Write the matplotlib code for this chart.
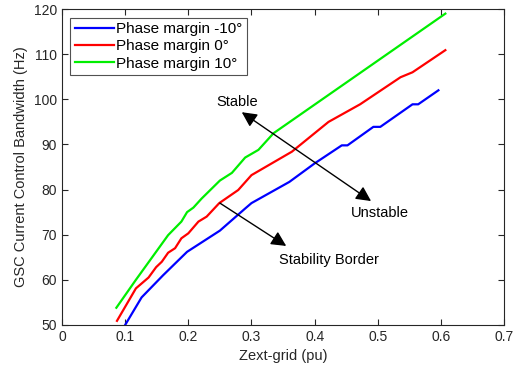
import matplotlib as mpl
mpl.use('Agg')
import matplotlib.pyplot as plt

plt.rcParams['font.family'] = ['Liberation Sans', 'DejaVu Sans']

# Phase margin -10 deg
x_neg10 = [0.10, 0.126, 0.16, 0.198, 0.25, 0.29, 0.30, 0.36, 0.40, 0.443, 0.452, 0.493, 0.504, 0.555, 0.564, 0.596]
y_neg10 = [50.0, 56.1, 61.0, 66.2, 70.9, 75.8, 77.0, 81.7, 85.8, 89.8, 89.8, 93.9, 93.9, 98.9, 98.9, 102.0]

# Phase margin 0 deg
x_0 = [0.087, 0.117, 0.137, 0.149, 0.158, 0.168, 0.179, 0.189, 0.20, 0.216, 0.229, 0.249, 0.279, 0.30, 0.364, 0.422, 0.472, 0.536, 0.555, 0.607]
y_0 = [50.9, 58.1, 60.5, 62.8, 64.0, 66.0, 67.0, 69.2, 70.3, 72.9, 74.0, 77.0, 79.9, 83.2, 88.4, 95.0, 98.9, 104.9, 106.0, 110.9]

# Phase margin 10 deg
x_10 = [0.086, 0.117, 0.168, 0.189, 0.198, 0.208, 0.221, 0.25, 0.269, 0.29, 0.311, 0.335, 0.607]
y_10 = [53.8, 60.0, 69.9, 72.9, 75.0, 76.0, 78.0, 82.0, 83.7, 87.1, 88.8, 92.5, 119.0]

labels = ['Phase margin -10°', 'Phase margin 0°', 'Phase margin 10°']

fig = plt.figure(figsize=(5.17, 3.8), dpi=100)
ax = fig.add_axes([0.12, 0.145, 0.855, 0.831])

ax.plot(x_neg10, y_neg10, color='#0000ff', lw=1.6, label=labels[0])
ax.plot(x_0, y_0, color='#ff0000', lw=1.6, label=labels[1])
ax.plot(x_10, y_10, color='#00ee00', lw=1.6, label=labels[2])

ax.set_xlim(0, 0.7)
ax.set_ylim(50, 120)
ax.set_xticks([0, 0.1, 0.2, 0.3, 0.4, 0.5, 0.6, 0.7])
ax.set_xticklabels(['0', '0.1', '0.2', '0.3', '0.4', '0.5', '0.6', '0.7'])
ax.set_yticks(range(50, 121, 10))
ax.tick_params(direction='in', top=True, right=True, labelsize=10, colors='#262626', length=4)
for s in ax.spines.values():
    s.set_color('#262626')
    s.set_linewidth(0.8)
ax.set_xlabel('Zext-grid (pu)', fontsize=10.5, color='#262626')
ax.set_ylabel('GSC Current Control Bandwidth (Hz)', fontsize=10.5, color='#262626')

leg = ax.legend(loc='upper left', fontsize=11, handlelength=2.55, handletextpad=0.15,
                borderaxespad=0.55, borderpad=0.3, labelspacing=0.22, fancybox=False)
leg.get_frame().set_edgecolor('#262626')
leg.get_frame().set_linewidth(0.8)

# stable / unstable double arrow
head = '<|-|>,head_length=0.6,head_width=0.3'
ax.annotate('', xy=(0.281, 97.5), xytext=(0.493, 77.1),
            arrowprops=dict(arrowstyle=head, color='black', lw=1.0, mutation_scale=15))
ax.text(0.278, 99.5, 'Stable', ha='center', va='center', fontsize=10.5)
ax.text(0.503, 74.7, 'Unstable', ha='center', va='center', fontsize=10.5)

ax.annotate('', xy=(0.355, 67.5), xytext=(0.25, 77.0),
            arrowprops=dict(arrowstyle='-|>,head_length=0.6,head_width=0.3', color='black',
                            lw=1.0, mutation_scale=15, shrinkA=0, shrinkB=0))
ax.text(0.422, 64.4, 'Stability Border', ha='center', va='center', fontsize=10.5)

fig.savefig('out.png', dpi=100)
